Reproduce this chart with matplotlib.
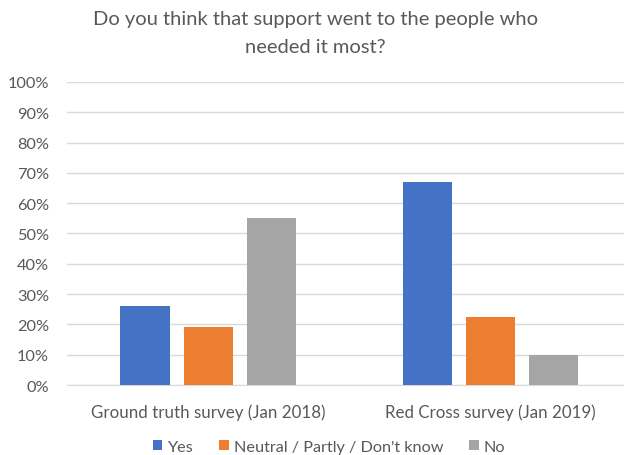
import matplotlib
matplotlib.use("Agg")
import matplotlib.pyplot as plt
import numpy as np
from matplotlib.ticker import PercentFormatter

plt.rcParams["font.family"] = ["Lato", "DejaVu Sans"]

# Survey results
surveys = ["Ground truth survey (Jan 2018)", "Red Cross survey (Jan 2019)"]
answers = ["Yes", "Neutral / Partly / Don't know", "No"]
yes = [0.26, 0.67]
neutral = [0.19, 0.225]
no = [0.55, 0.10]
colors = ["#4472C4", "#ED7D31", "#A5A5A5"]

text_color = "#595959"
grid_color = "#D9D9D9"

fig = plt.figure(figsize=(6.24, 4.56), dpi=100)
ax = fig.add_axes([0.1074, 0.1535, 0.904, 0.6645])

x = np.arange(len(surveys))
width = 0.174
step = 0.2234
for i, (vals, label) in enumerate(zip([yes, neutral, no], answers)):
    ax.bar(x + (i - 1) * step, vals, width, color=colors[i], label=label, zorder=3)

ax.set_xlim(-0.5, 1.5)
ax.set_ylim(0, 1)
ax.set_yticks(np.arange(0, 1.01, 0.1))
ax.yaxis.set_major_formatter(PercentFormatter(1.0, decimals=0))
ax.set_xticks(x)
ax.set_xticklabels(surveys)
ax.tick_params(axis="both", length=0, labelsize=11.8, labelcolor=text_color)
ax.tick_params(axis="y", pad=13)
ax.tick_params(axis="x", pad=13, labelsize=12.2)
ax.grid(axis="y", color=grid_color, linewidth=1, zorder=0)
for side in ["top", "right", "left"]:
    ax.spines[side].set_visible(False)
ax.spines["bottom"].set_color(grid_color)

fig.text(0.505, 0.975, "Do you think that support went to the people who\nneeded it most?",
         ha="center", va="top", fontsize=14.5, color=text_color, linespacing=1.75)

fig.legend(loc="center", bbox_to_anchor=(0.527, 0.018), ncol=3, frameon=False,
           fontsize=11.7, labelcolor=text_color, handlelength=0.6, handleheight=0.6,
           handletextpad=0.3, columnspacing=1.6)

fig.savefig("out.png", dpi=100)
